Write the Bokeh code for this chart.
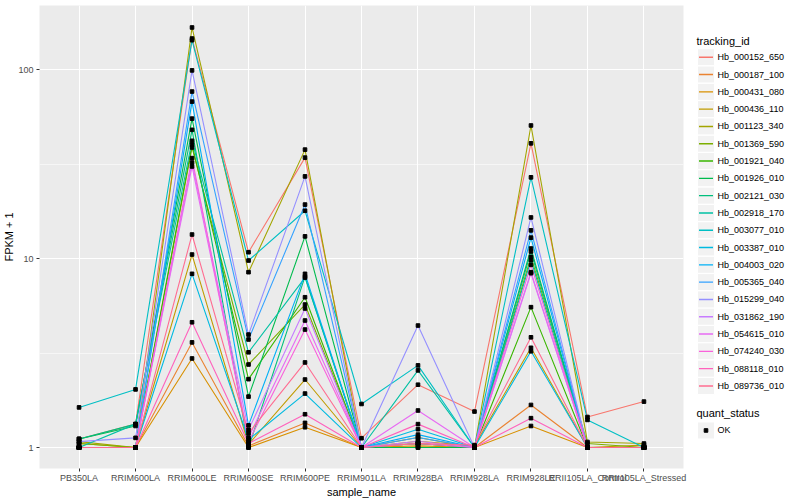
from bokeh.plotting import figure
from bokeh.models import Range1d, FactorRange, FixedTicker, BasicTickFormatter, ColumnDataSource
from bokeh.layouts import row
from bokeh.embed import file_html
from bokeh.resources import INLINE
from bokeh.core.properties import value

samples = ["PB350LA", "RRIM600LA", "RRIM600LE", "RRIM600SE", "RRIM600PE", "RRIM901LA",
           "RRIM928BA", "RRIM928LA", "RRIM928LE", "RRII105LA_Control", "RRII105LA_Stressed"]

tracking_ids = ["Hb_000152_650", "Hb_000187_100", "Hb_000431_080", "Hb_000436_110",
                "Hb_001123_340", "Hb_001369_590", "Hb_001921_040", "Hb_001926_010",
                "Hb_002121_030", "Hb_002918_170", "Hb_003077_010", "Hb_003387_010",
                "Hb_004003_020", "Hb_005365_040", "Hb_015299_040", "Hb_031862_190",
                "Hb_054615_010", "Hb_074240_030", "Hb_088118_010", "Hb_089736_010"]

colors = ["#F8766D", "#EA8331", "#D89000", "#C09B00", "#A3A500", "#7CAE00", "#39B600",
          "#00BB4E", "#00BF7D", "#00C1A3", "#00BFC4", "#00BAE0", "#00B0F6", "#35A2FF",
          "#9590FF", "#C77CFF", "#E76BF3", "#FA62DB", "#FF62BC", "#FF6C91"]

# FPKM + 1 per sample (order of `samples`)
hb_000152_650 = [1.11, 1.33, 146, 10.8, 34.2, 1.12, 2.15, 1.55, 40.7, 1.45, 1.75]
hb_000187_100 = [1.0, 1.0, 3.6, 1.02, 1.35, 1.0, 1.05, 1.0, 1.68, 1.0, 1.0]
hb_000431_080 = [1.0, 1.0, 2.96, 1.0, 1.28, 1.0, 1.02, 1.0, 1.30, 1.0, 1.0]
hb_000436_110 = [1.05, 1.0, 10.5, 1.04, 2.29, 1.0, 1.08, 1.02, 3.37, 1.0, 1.03]
hb_001123_340 = [1.075, 1.0, 167, 8.47, 37.7, 1.0, 1.13, 1.0, 50.6, 1.07, 1.05]
hb_001369_590 = [1.05, 1.0, 38.7, 2.75, 5.71, 1.0, 1.05, 1.0, 10.2, 1.05, 1.0]
hb_001921_040 = [1.0, 1.0, 40, 2.3, 6.24, 1.0, 1.0, 1.0, 5.53, 1.0, 1.0]
hb_001926_010 = [1.11, 1.30, 55, 1.86, 13.1, 1.0, 1.0, 1.0, 11.3, 1.0, 1.0]
hb_002121_030 = [1.11, 1.33, 48, 1.0, 8.03, 1.0, 1.05, 1.0, 10.9, 1.0, 1.0]
hb_002918_170 = [1.0, 1.33, 42, 3.19, 7.93, 1.0, 2.56, 1.0, 9.8, 1.0, 1.0]
hb_003077_010 = [1.63, 2.03, 143, 9.76, 17.9, 1.7, 2.72, 1.0, 26.9, 1.40, 1.0]
hb_003387_010 = [1.0, 1.0, 8.3, 1.1, 1.93, 1.0, 1.25, 1.0, 3.23, 1.0, 1.0]
hb_004003_020 = [1.0, 1.0, 67.7, 1.31, 8.3, 1.0, 1.17, 1.0, 12.9, 1.0, 1.0]
hb_005365_040 = [1.0, 1.0, 76.5, 3.73, 19.3, 1.0, 1.13, 1.0, 14.1, 1.0, 1.0]
hb_015299_040 = [1.075, 1.125, 99, 3.96, 27.2, 1.0, 4.42, 1.0, 16.5, 1.0, 1.0]
hb_031862_190 = [1.0, 1.0, 32.2, 1.24, 5.44, 1.0, 1.08, 1.0, 8.47, 1.0, 1.0]
hb_054615_010 = [1.0, 1.0, 30.7, 1.13, 4.70, 1.0, 1.57, 1.0, 8.36, 1.0, 1.0]
hb_074240_030 = [1.0, 1.0, 34, 1.07, 4.21, 1.0, 1.05, 1.0, 9.26, 1.0, 1.0]
hb_088118_010 = [1.0, 1.0, 4.6, 1.05, 1.50, 1.0, 1.33, 1.0, 1.43, 1.0, 1.0]
hb_089736_010 = [1.0, 1.0, 13.4, 1.19, 2.82, 1.0, 1.05, 1.03, 3.83, 1.0, 1.0]

series = [hb_000152_650, hb_000187_100, hb_000431_080, hb_000436_110, hb_001123_340,
          hb_001369_590, hb_001921_040, hb_001926_010, hb_002121_030, hb_002918_170,
          hb_003077_010, hb_003387_010, hb_004003_020, hb_005365_040, hb_015299_040,
          hb_031862_190, hb_054615_010, hb_074240_030, hb_088118_010, hb_089736_010]

quant_status = ["OK"]

FONT = "Liberation Sans"
H = 500
WMAIN = 690
WLEG = 108
TOP = 5
BOTTOM = 32.5   # estimated height of the x-axis area

p = figure(x_range=FactorRange(factors=samples, range_padding=0.2, range_padding_units="absolute"),
           y_axis_type="log", y_range=Range1d(10 ** -0.111, 10 ** 2.339),
           width=WMAIN, height=H,
           output_backend="svg", toolbar_location=None,
           min_border_left=38, min_border_right=7, min_border_top=TOP, min_border_bottom=20,
           background_fill_color="#EBEBEB", border_fill_color="white",
           outline_line_color=None)

for vals, c in zip(series, colors):
    p.line(samples, vals, line_color=c, line_width=1.1)

all_x = [s for vals in series for s in samples]
all_y = [v for vals in series for v in vals]
p.scatter(all_x, all_y, marker="square", size=3.6, fill_color="black", line_color="black")

yt = FixedTicker(ticks=[1, 10, 100], minor_ticks=[10 ** -0.5, 10 ** 0.5, 10 ** 1.5, 10 ** 2.5])
p.yaxis.ticker = yt
p.ygrid.ticker = yt
p.yaxis.formatter = BasicTickFormatter()

p.xgrid.grid_line_color = "white"
p.xgrid.grid_line_width = 1.1
p.ygrid.grid_line_color = "white"
p.ygrid.grid_line_width = 1.1
p.ygrid.minor_grid_line_color = "white"
p.ygrid.minor_grid_line_width = 0.55

for ax in (p.xaxis, p.yaxis):
    ax.axis_line_color = None
    ax.major_tick_line_color = "#333333"
    ax.major_tick_out = 3
    ax.major_tick_in = 0
    ax.minor_tick_line_color = None
    ax.major_label_text_font = FONT
    ax.major_label_text_font_size = "9px"
    ax.major_label_text_color = "#4D4D4D"
    ax.axis_label_text_font = FONT
    ax.axis_label_text_font_size = "11px"
    ax.axis_label_text_font_style = "normal"
    ax.axis_label_text_color = "black"

p.xaxis.major_label_standoff = 1
p.xaxis.axis_label_standoff = 0
p.yaxis.major_label_standoff = 2
p.yaxis.axis_label_standoff = 0
p.xaxis.axis_label = "sample_name"
p.yaxis.axis_label = "FPKM + 1"
p.xaxis.major_label_orientation = "horizontal"

# legend panel: its frame is aligned with the main frame (TOP .. H-BOTTOM); use page pixels
lg = figure(width=WLEG, height=H, x_range=Range1d(WMAIN, WMAIN + WLEG),
            y_range=Range1d(H - BOTTOM, TOP),
            x_axis_location=None, y_axis_location=None,
            output_backend="svg", toolbar_location=None,
            min_border_left=0, min_border_right=0, min_border_top=TOP, min_border_bottom=int(BOTTOM),
            outline_line_color=None, background_fill_color="white", border_fill_color="white")
lg.grid.visible = False

ky = [56.7 + 17.28 * i for i in range(len(tracking_ids))]
keys = ColumnDataSource(dict(x=[705.5] * len(ky), y=ky, x0=[698.5] * len(ky), x1=[712.5] * len(ky),
                             tx=[717] * len(ky), color=colors, label=tracking_ids))
lg.text([696], [40.5], text=["tracking_id"], text_font=value(FONT), text_font_size="11px",
        text_baseline="middle", text_color="black")
lg.rect("x", "y", width=17, height=17, fill_color="#F2F2F2", line_color="white",
        line_width=1, source=keys)
lg.segment("x0", "y", "x1", "y", line_color="color", line_width=1.4, source=keys)
lg.text("tx", "y", text="label", text_font=value(FONT), text_font_size="9px",
        text_baseline="middle", text_color="black", source=keys)

lg.text([696], [412], text=["quant_status"], text_font=value(FONT), text_font_size="11px",
        text_baseline="middle", text_color="black")
lg.rect([705.5], [429.5], width=17, height=17, fill_color="#F2F2F2", line_color="white")
lg.scatter([705.5], [429.5], marker="square", size=3.6, fill_color="black", line_color="black")
lg.text([717], [429.5], text=quant_status, text_font=value(FONT), text_font_size="9px",
        text_baseline="middle", text_color="black")

layout = row(p, lg)
open("out.html", "w").write(file_html(layout, INLINE))
